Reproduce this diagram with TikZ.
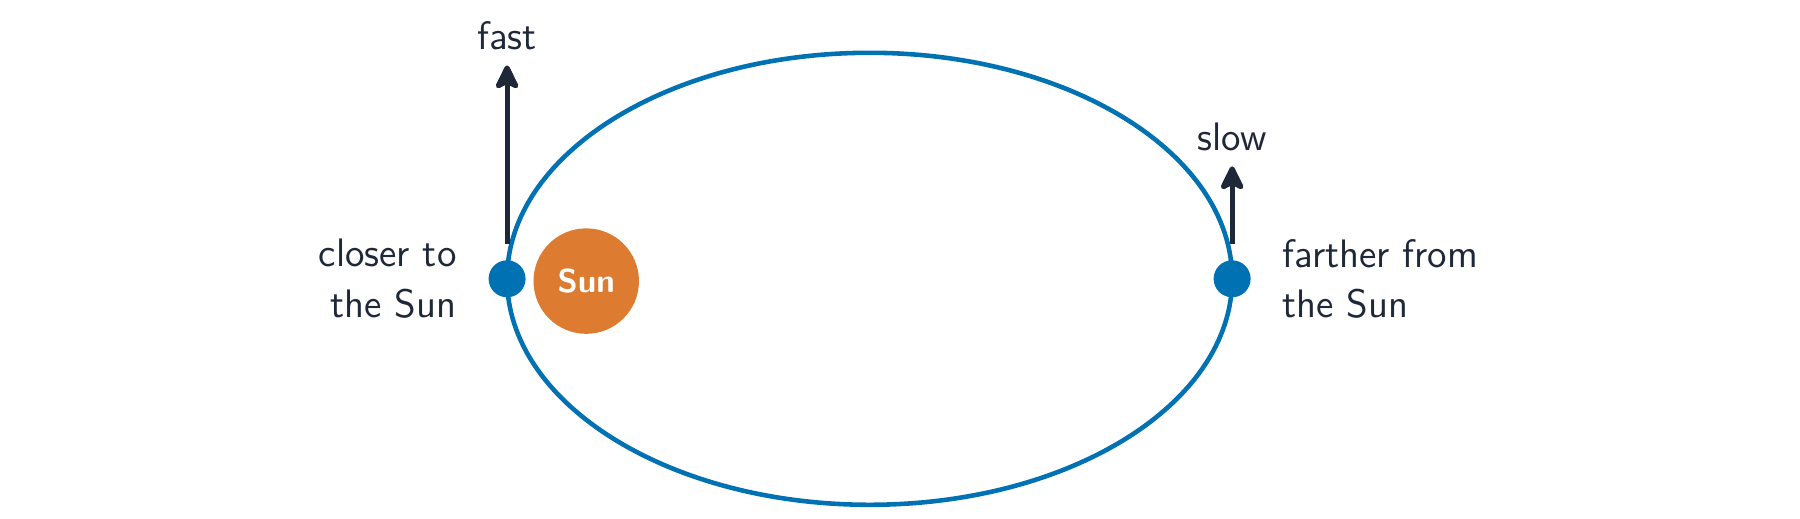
\documentclass[tikz,border=0pt]{standalone}
\usepackage{fontspec}
\usetikzlibrary{arrows.meta}
\usetikzlibrary{positioning}
\definecolor{orbitblue}{HTML}{0071B2}
\definecolor{sunorange}{HTML}{DD7C31}
\definecolor{inkdark}{HTML}{1E2838}

\begin{document}
\begin{tikzpicture}[
  x=0.01147cm, y=-0.01147cm,
  > = {Stealth[length=2.9mm,width=2.8mm,inset=0.7mm,round]},
  font=\sffamily\fontsize{11.3}{14.4}\selectfont, text=inkdark,
  dot/.style = {circle,fill=orbitblue,inner sep=0pt,minimum size=0.37cm},
  sun/.style = {circle,fill=sunorange,inner sep=0pt,minimum size=1.055cm,text=white,font=\sffamily\bfseries\fontsize{9.4}{11}\selectfont},
  speed/.style = {->, line width=1.45pt, draw=inkdark}
  ]
	\useasboundingbox (0,0) rectangle (1569,451.6);

	% orbit
	\draw[orbitblue, line width=1.3pt] (758,243) ellipse [x radius=316, y radius=197];

	\node[dot] (peri) at (442,243) {};
	\node[dot] (aph)  at (1074,243) {};
	\node[sun] (sun)  at (511,245) {Sun};

	\coordinate (fastbase) at (442,213);
	\coordinate (fasttip)  at (442,57);
	\coordinate (slowbase) at (1074,213);
	\coordinate (slowtip)  at (1074,145);

	\draw[speed] (fastbase) to (fasttip);
	\draw[speed] (slowbase) to (slowtip);

	\node[above=1pt of fasttip] (fast) {fast};
	\node[above=1pt of slowtip] (slow) {slow};

	\node[left=0.19cm of peri, align=right] (near) {closer to\\the Sun};
	\node[right=0.19cm of aph, align=left] (far) {farther from\\the Sun};

\end{tikzpicture}
\end{document}
